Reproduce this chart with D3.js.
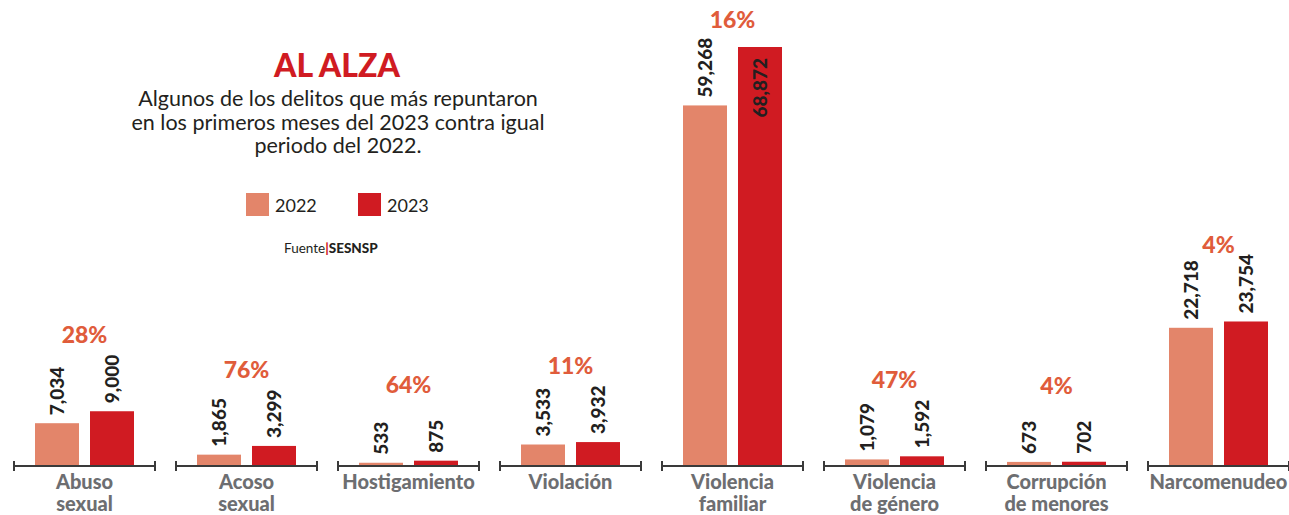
<!DOCTYPE html>
<html>
<head>
  <title>Al alza</title>
  <script src="https://cdn.jsdelivr.net/npm/d3@7"></script>
  <style>
    body { margin: 0; background: #fff; }
    text { font-family: Lato, "Open Sans", sans-serif; }
  </style>
</head>
<body>
  <div id="myChart"></div>
  <script>
    // Data
    const categories = [
      ["Abuso", "sexual"],
      ["Acoso", "sexual"],
      ["Hostigamiento"],
      ["Violación"],
      ["Violencia", "familiar"],
      ["Violencia", "de género"],
      ["Corrupción", "de menores"],
      ["Narcomenudeo"]
    ];
    const years = ["2022", "2023"];
    const values2022 = [7034, 1865, 533, 3533, 59268, 1079, 673, 22718];
    const values2023 = [9000, 3299, 875, 3932, 68872, 1592, 702, 23754];
    const changes = ["28%", "76%", "64%", "11%", "16%", "47%", "4%", "4%"];

    const width = 1289;
    const height = 515;
    const baseY = 466;
    const colors = { "2022": "#e3856a", "2023": "#d01b22" };

    const keys = categories.map(c => c.join(" "));
    const rows = keys.map((k, i) => ({
      key: k,
      lines: categories[i],
      vals: [values2022[i], values2023[i]],
      change: changes[i]
    }));

    const svg = d3.select("#myChart").append("svg")
        .attr("width", width)
        .attr("height", height);

    // Scales
    const x0 = d3.scaleBand()
        .domain(keys)
        .range([14, 1289])
        .paddingInner(21 / 162)
        .paddingOuter(0);

    const x1 = d3.scaleBand()
        .domain(years)
        .range([21, 120])
        .paddingInner(0.2)
        .paddingOuter(0);

    const y = d3.scaleLinear()
        .domain([0, d3.max(values2023)])
        .range([baseY, 47]);

    const fmt = d3.format(",");
    const isInside = v => y(v) < 70; // no room above -> label goes inside the bar

    const groups = svg.selectAll(".grp")
        .data(rows)
        .enter().append("g")
        .attr("class", "grp")
        .attr("transform", d => `translate(${x0(d.key)},0)`);

    // Bars
    groups.selectAll(".bar")
        .data(d => years.map((yr, j) => ({ yr: yr, v: d.vals[j] })))
        .enter().append("rect")
        .attr("class", "bar")
        .attr("x", d => x1(d.yr))
        .attr("y", d => y(d.v))
        .attr("width", x1.bandwidth())
        .attr("height", d => baseY - y(d.v))
        .attr("fill", d => colors[d.yr]);

    // Value labels (rotated)
    groups.selectAll(".val")
        .data(d => years.map((yr, j) => ({ yr: yr, v: d.vals[j] })))
        .enter().append("text")
        .attr("class", "val")
        .attr("transform", d => {
          const cx = x1(d.yr) + x1.bandwidth() / 2;
          const ty = isInside(d.v) ? y(d.v) + 11 : y(d.v) - 8;
          return `translate(${cx},${ty}) rotate(-90)`;
        })
        .attr("dy", "0.36em")
        .attr("text-anchor", d => isInside(d.v) ? "end" : "start")
        .attr("fill", "#231f20")
        .style("font-size", "19px")
        .style("font-weight", "900")
        .text(d => fmt(d.v));

    // Percent change
    groups.append("text")
        .attr("x", x0.bandwidth() / 2)
        .attr("y", d => Math.max(28, y(d3.max(d.vals)) - 68))
        .attr("text-anchor", "middle")
        .attr("fill", "#e05c3b")
        .style("font-size", "23px")
        .style("font-weight", "900")
        .text(d => d.change);

    // Per-group axis with end ticks
    groups.append("line")
        .attr("x1", 0).attr("x2", x0.bandwidth())
        .attr("y1", baseY).attr("y2", baseY)
        .attr("stroke", "#3a3a3a").attr("stroke-width", 2);
    groups.selectAll(".tk")
        .data([0, x0.bandwidth()])
        .enter().append("line")
        .attr("x1", d => d).attr("x2", d => d)
        .attr("y1", baseY - 5).attr("y2", baseY + 5)
        .attr("stroke", "#3a3a3a").attr("stroke-width", 2);

    // Category labels
    groups.append("text")
        .attr("text-anchor", "middle")
        .attr("fill", "#6d6e71")
        .style("font-size", "20px")
        .style("font-weight", "900")
        .selectAll("tspan")
        .data(d => d.lines)
        .enter().append("tspan")
        .attr("x", x0.bandwidth() / 2)
        .attr("y", (d, i) => 489 + i * 22)
        .text(d => d);

    // Title block
    svg.append("text")
        .attr("x", 337).attr("y", 77)
        .attr("text-anchor", "middle")
        .attr("fill", "#d01b22")
        .style("font-size", "32px")
        .style("font-weight", "900")
        .text("AL ALZA");

    const sub = ["Algunos de los delitos que más repuntaron",
                 "en los primeros meses del 2023 contra igual",
                 "periodo del 2022."];
    svg.append("text")
        .attr("text-anchor", "middle")
        .attr("fill", "#231f20")
        .style("font-size", "21.5px")
        .selectAll("tspan")
        .data(sub)
        .enter().append("tspan")
        .attr("x", 338)
        .attr("y", (d, i) => 106 + i * 23.5)
        .text(d => d);

    // Legend
    const legX = [246, 358];
    years.forEach((yr, i) => {
      svg.append("rect")
          .attr("x", legX[i]).attr("y", 193)
          .attr("width", 23).attr("height", 23)
          .attr("fill", colors[yr]);
      svg.append("text")
          .attr("x", legX[i] + 29).attr("y", 212)
          .attr("fill", "#231f20")
          .style("font-size", "18px")
          .text(yr);
    });

    // Source
    const src = svg.append("text")
        .attr("x", 284).attr("y", 253)
        .attr("fill", "#231f20")
        .style("font-size", "13.5px");
    src.append("tspan").text("Fuente");
    src.append("tspan").attr("fill", "#d01b22").style("font-weight", "900").text("|");
    src.append("tspan").style("font-weight", "900").text("SESNSP");
  </script>
</body>
</html>
